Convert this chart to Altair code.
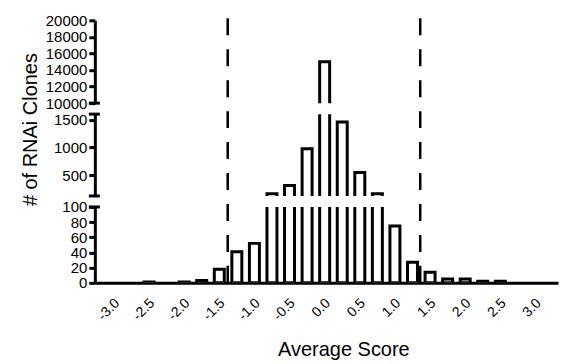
import altair as alt
import pandas as pd

# ---- data ----
scores = [-3.0, -2.75, -2.5, -2.25, -2.0, -1.75, -1.5, -1.25, -1.0, -0.75, -0.5, -0.25,
          0.0, 0.25, 0.5, 0.75, 1.0, 1.25, 1.5, 1.75, 2.0, 2.25, 2.5, 2.75, 3.0]
counts = [0, 0, 1, 0, 1, 3, 18, 41, 52, 170, 320, 980,
          15000, 1460, 550, 170, 75, 27, 14, 5, 5, 2, 2, 0, 0]
cutoffs = [-1.38, 1.36]

x_ticks = [-3.0, -2.5, -2.0, -1.5, -1.0, -0.5, 0.0, 0.5, 1.0, 1.5, 2.0, 2.5, 3.0]
top_ticks = [10000, 12000, 14000, 16000, 18000, 20000]
mid_ticks = [500, 1000, 1500]
low_ticks = [0, 20, 40, 60, 80, 100]

x_domain = [-3.2, 3.25]
top_domain = [10000, 20000]
mid_domain = [130, 1600]
low_domain = [0, 100]

FONT = "Liberation Sans"
W = 464
H_TOP, H_MID, H_LOW = 83, 82, 76
GAP = 11

df = pd.DataFrame({"score": scores, "count": counts})
cut_df = pd.DataFrame({"score": cutoffs})

xscale = alt.Scale(domain=x_domain, nice=False, zero=False)


def y_axis(values, **kw):
    return alt.Axis(values=values, format="d", grid=False, labelFont=FONT,
                    labelFontSize=15, labelColor="black", labelPadding=2,
                    labelOverlap=False, labelFlush=False,
                    tickSize=6, tickWidth=3, tickColor="black",
                    domainWidth=3, domainColor="black", **kw)


x_axis_low = alt.Axis(values=x_ticks, grid=False, ticks=False, tickSize=0,
                      domainWidth=3, domainColor="black",
                      labelExpr="datum.value < 0 ? '-' + format(-datum.value, '.1f') : format(datum.value, '.1f')",
                      labelAngle=315, labelAlign="right", labelBaseline="middle",
                      labelPadding=18, labelOffset=3, labelFont=FONT, labelFontSize=14,
                      labelColor="black", labelOverlap=False, labelFlush=False,
                      title="Average Score", titleFont=FONT, titleFontSize=20,
                      titleFontWeight="normal", titleColor="black",
                      titleX=249, titleY=72.5, titleAlign="center",
                      titleBaseline="alphabetic")


def panel(domain, ticks, height, yaxis, xaxis, breaks, extra=None):
    yscale = alt.Scale(domain=domain, nice=False, zero=False)
    bars = alt.Chart(df).transform_filter("datum.count > 0").mark_bar(
        size=10, fill="white", stroke="black", strokeWidth=3, clip=True).encode(
        x=alt.X("score:Q", scale=xscale, axis=xaxis),
        y=alt.Y("count:Q", scale=yscale, axis=yaxis),
        y2=alt.datum(0),
    )
    brk = alt.Chart(pd.DataFrame({"count": breaks})).mark_rule(
        stroke="black", strokeWidth=3).encode(
        y=alt.Y("count:Q", scale=yscale, axis=yaxis),
        x=alt.value(-6), x2=alt.value(5),
    )
    layers = [bars, brk]
    if extra is not None:
        layers.append(extra(yscale, yaxis, xaxis))
    return alt.layer(*layers).properties(width=W, height=height)


def cutoff_rules(yscale, yaxis, xaxis):
    return alt.Chart(cut_df).mark_rule(stroke="black", strokeWidth=2.5,
                                       strokeDash=[17, 14]).encode(
        x=alt.X("score:Q", scale=xscale, axis=xaxis),
        y=alt.Y(datum=0, scale=yscale, axis=yaxis),
        y2=alt.value(-(H_TOP + H_MID + 2 * GAP + 10)),
    )


top = panel(top_domain, top_ticks, H_TOP, y_axis(top_ticks, title=None), None,
            [top_domain[0]])
mid = panel(mid_domain, mid_ticks, H_MID,
            y_axis(mid_ticks, title="# of RNAi Clones", titleFont=FONT,
                   titleFontSize=20, titleFontWeight="normal", titleColor="black",
                   titleAngle=270, titleX=-64, titleY=15, titleAlign="center",
                   titleBaseline="middle"),
            None, mid_domain)
low = panel(low_domain, low_ticks, H_LOW, y_axis(low_ticks, title=None), x_axis_low,
            [low_domain[1]], extra=cutoff_rules)

chart = alt.vconcat(top, mid, low, spacing=GAP, bounds="flush").properties(
    padding={"left": 12, "top": 0, "right": 5, "bottom": 0},
    background="white",
).configure_view(stroke=None)

chart.save("out.html", embed_options={"renderer": "svg", "actions": False})
